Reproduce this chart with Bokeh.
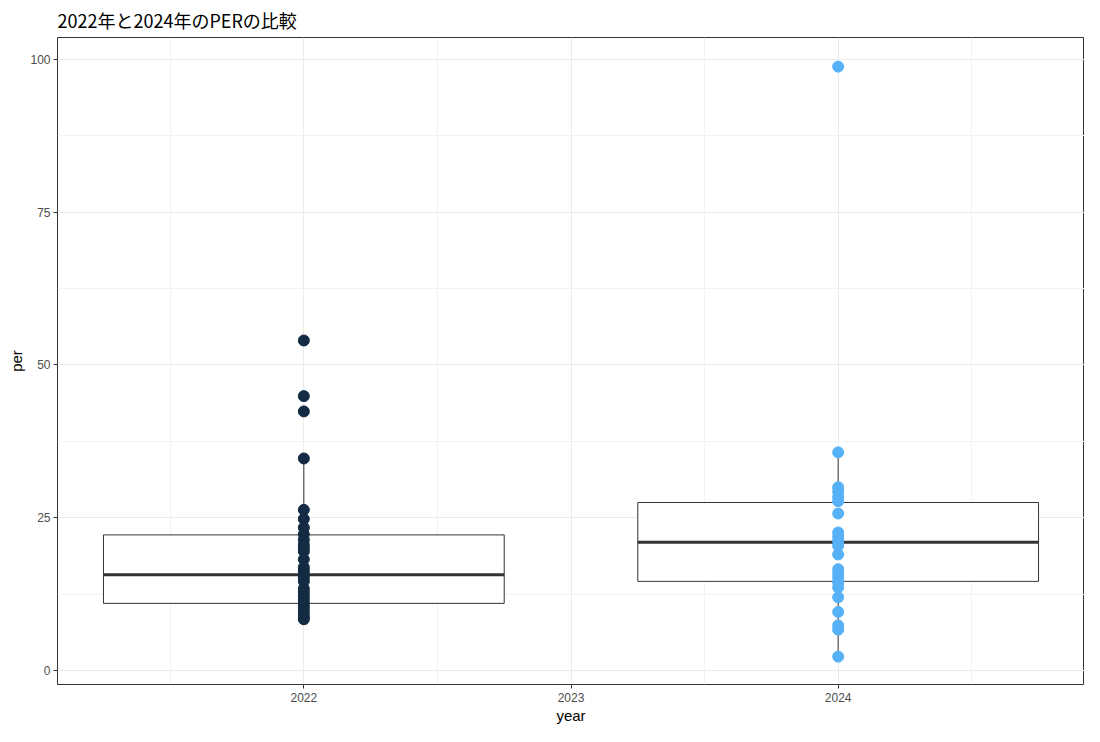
from bokeh.plotting import figure
from bokeh.models import ColumnDataSource, Range1d, FixedTicker
from bokeh.embed import file_html
from bokeh.resources import INLINE

# ---- data ----
per_2022 = [54.0, 44.9, 42.4, 34.7, 26.3, 24.8, 23.4, 22.3, 21.4, 20.6, 20.0, 19.5,
            18.2, 16.9, 16.3, 15.7, 15.2, 14.6, 13.4, 12.8, 12.2, 11.6, 11.0, 10.4,
            9.8, 9.2, 8.7, 8.4]
per_2024 = [98.8, 35.7, 30.0, 29.3, 28.4, 27.7, 25.7, 22.6, 21.9, 21.2, 20.4, 19.0,
            16.6, 15.9, 15.2, 14.4, 13.6, 12.0, 9.6, 7.4, 6.7, 2.3]

box_years = [2022, 2024]
box_q1 = [11.0, 14.6]
box_median = [15.7, 21.0]
box_q3 = [22.2, 27.5]
box_lower = [8.4, 2.3]
box_upper = [34.7, 35.7]

x_ticks = [2022, 2023, 2024]
y_ticks = [0, 25, 50, 75, 100]

point_colors = {2022: "#132B43", 2024: "#56B1F7"}

# ---- figure ----
p = figure(width=1084, height=726, output_backend="svg", toolbar_location=None,
           x_range=Range1d(2021.078, 2024.922), y_range=Range1d(-2.27, 103.56),
           min_border_left=57, min_border_right=0, min_border_top=36, min_border_bottom=38)

p.title.text = "2022年と2024年のPERの比較"
p.title.text_font = "Noto Sans CJK JP"
p.title.text_font_size = "18px"
p.title.text_font_style = "normal"
p.title.text_color = "#000000"
p.title.align = "left"
p.title.offset = 0
p.title.standoff = 9

p.background_fill_color = "white"
p.border_fill_color = "white"
p.outline_line_color = "#333333"
p.outline_line_width = 1

p.xaxis.ticker = FixedTicker(ticks=x_ticks, minor_ticks=[2021.5, 2022.5, 2023.5, 2024.5])
p.yaxis.ticker = FixedTicker(ticks=y_ticks, minor_ticks=[12.5, 37.5, 62.5, 87.5])
p.xaxis.axis_label = "year"
p.yaxis.axis_label = "per"

for ax in (p.xaxis, p.yaxis):
    ax.axis_line_color = None
    ax.major_tick_line_color = "#333333"
    ax.major_tick_out = 4
    ax.major_tick_in = 0
    ax.minor_tick_line_color = None
    ax.major_label_text_font = "Liberation Sans"
    ax.major_label_text_font_size = "12px"
    ax.major_label_text_color = "#4D4D4D"
    ax.axis_label_text_font = "Liberation Sans"
    ax.axis_label_text_font_size = "15px"
    ax.axis_label_text_font_style = "normal"
    ax.axis_label_text_color = "#000000"
p.xaxis.major_label_standoff = 4
p.yaxis.major_label_standoff = 3
p.xaxis.axis_label_standoff = 2
p.yaxis.axis_label_standoff = 2

p.xgrid.grid_line_color = "#EBEBEB"
p.ygrid.grid_line_color = "#EBEBEB"
p.xgrid.grid_line_width = 1
p.ygrid.grid_line_width = 1
p.xgrid.minor_grid_line_color = "#F2F2F2"
p.ygrid.minor_grid_line_color = "#F2F2F2"

# ---- boxes ----
bsrc = ColumnDataSource(dict(x=box_years, q1=box_q1, med=box_median, q3=box_q3,
                             lo=box_lower, hi=box_upper,
                             left=[y - 0.75 for y in box_years],
                             right=[y + 0.75 for y in box_years]))
p.segment(x0="x", y0="q3", x1="x", y1="hi", source=bsrc, line_color="#333333", line_width=1)
p.segment(x0="x", y0="q1", x1="x", y1="lo", source=bsrc, line_color="#333333", line_width=1)
p.vbar(x="x", width=1.5, bottom="q1", top="q3", source=bsrc,
       fill_color="white", line_color="#333333", line_width=1)
p.segment(x0="left", y0="med", x1="right", y1="med", source=bsrc,
          line_color="#333333", line_width=3)

# ---- points ----
for yr, vals in ((2022, per_2022), (2024, per_2024)):
    p.scatter(x=[yr] * len(vals), y=vals, size=11, marker="circle",
              fill_color=point_colors[yr], line_color=point_colors[yr])

open("out.html", "w").write(file_html(p, INLINE))
